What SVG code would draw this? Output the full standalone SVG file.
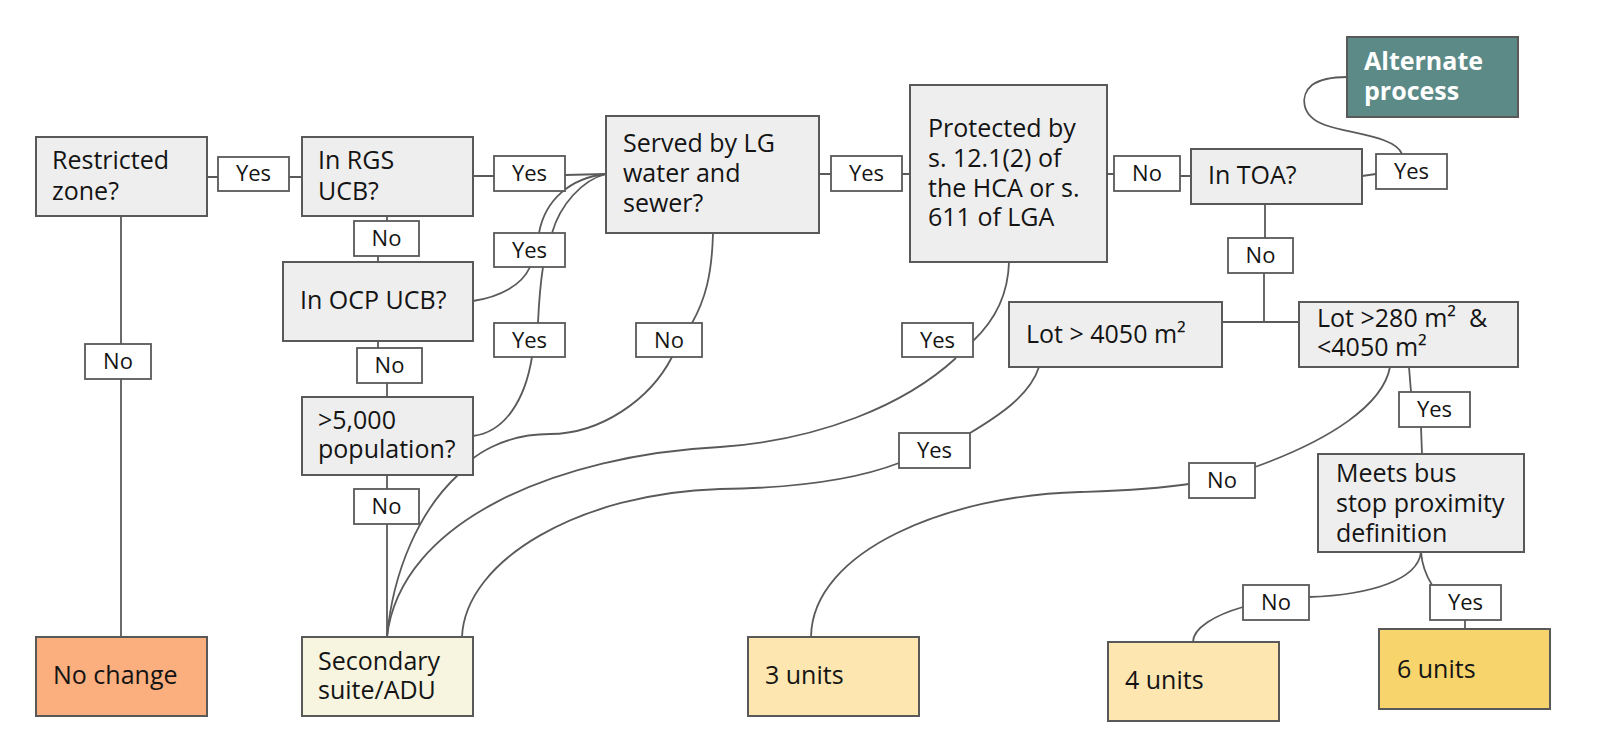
<svg xmlns="http://www.w3.org/2000/svg" width="1600" height="747" viewBox="0 0 1600 747">
<style>
.bg{fill:#ffffff}
.box{fill:#eeeeee;stroke:#595959;stroke-width:2}
.t{font-family:"Open Sans","Noto Sans","Liberation Sans",sans-serif;font-size:25px;fill:#141414}
.tw{font-family:"Open Sans","Noto Sans","Liberation Sans",sans-serif;font-size:25px;font-weight:bold;fill:#ffffff}
.lbl{fill:#ffffff;stroke:#595959;stroke-width:1.8}
.lt{font-family:"Open Sans","Noto Sans","Liberation Sans",sans-serif;font-size:22px;fill:#141414;text-anchor:middle}
.c{fill:none;stroke:#5a5a5a;stroke-width:1.8}
</style>
<rect class="bg" x="0" y="0" width="1600" height="747"/>
<g id="connectors">
<path class="c" d="M207,177 H302"/>
<path class="c" d="M121,216 V637"/>
<path class="c" d="M387,216 V221 M378,256 V262"/>
<path class="c" d="M473,176 H494 M565,175 L606,174"/>
<path class="c" d="M473,301 C500,297 522,285 530,267 M539,233 C545,200 570,178 606,174"/>
<path class="c" d="M473,436 C505,432 525,400 532,357 M538,323 C539,300 541,280 543,267 M552,233 C560,205 582,180 606,174"/>
<path class="c" d="M378,341 V348 M387,383 V397"/>
<path class="c" d="M387,475 V489 M387,524 V637"/>
<path class="c" d="M713,233 C712,275 705,300 692,323 M672,357 C650,400 600,434 550,434 C505,434 470,455 458,475 C420,510 393,570 387,637"/>
<path class="c" d="M819,174 H911"/>
<path class="c" d="M1009,262 C1008,300 990,325 973,341 M956,358 C905,405 820,440 720,447 C560,455 400,520 387,637"/>
<path class="c" d="M1107,174 H1114 M1180,176 H1191"/>
<path class="c" d="M1362,176 L1376,174 M1402,154 C1395,136 1350,134 1325,125 C1300,116 1300,95 1312,85 C1322,78 1335,77 1347,77"/>
<path class="c" d="M1265,204 V238 M1264,273 V322 M1222,322 H1300"/>
<path class="c" d="M1039,367 C1030,395 1000,415 970,433 M899,463 C860,478 800,488 720,489 C580,493 465,560 462,637"/>
<path class="c" d="M1390,367 C1383,405 1330,440 1255,467 M1189,484 C1150,490 1110,491 1080,492 C950,495 812,550 811,637"/>
<path class="c" d="M1409,367 L1411,392 M1421,427 L1422,454"/>
<path class="c" d="M1421,552 C1418,580 1370,595 1309,597 M1243,607 C1215,615 1193,628 1193,642"/>
<path class="c" d="M1421,552 C1422,565 1427,577 1432,585 M1465,620 V629"/>
</g>
<g id="restricted"><rect class="box" x="36" y="137" width="171" height="79"/><text class="t" x="52" y="169">Restricted</text><text class="t" x="52" y="200">zone?</text></g>
<g id="rgs"><rect class="box" x="302" y="137" width="171" height="79"/><text class="t" x="318" y="169">In RGS</text><text class="t" x="318" y="200">UCB?</text></g>
<g id="ocp"><rect class="box" x="283" y="262" width="190" height="79"/><text class="t" x="300" y="309">In OCP UCB?</text></g>
<g id="population"><rect class="box" x="302" y="397" width="171" height="78"/><text class="t" x="318" y="429">&gt;5,000</text><text class="t" x="318" y="458">population?</text></g>
<g id="served"><rect class="box" x="606" y="116" width="213" height="117"/><text class="t" x="623" y="152">Served by LG</text><text class="t" x="623" y="182">water and</text><text class="t" x="623" y="212">sewer?</text></g>
<g id="protected"><rect class="box" x="910" y="85" width="197" height="177"/><text class="t" x="928" y="137">Protected by</text><text class="t" x="928" y="167">s. 12.1(2) of</text><text class="t" x="928" y="197">the HCA or s.</text><text class="t" x="928" y="226">611 of LGA</text></g>
<g id="toa"><rect class="box" x="1191" y="149" width="171" height="55"/><text class="t" x="1208" y="184">In TOA?</text></g>
<g id="alternate"><rect x="1347" y="37" width="171" height="80" fill="#5b8a87" stroke="#595959" stroke-width="2"/><text class="tw" x="1364" y="70">Alternate</text><text class="tw" x="1364" y="100">process</text></g>
<g id="lot4050"><rect class="box" x="1009" y="302" width="213" height="65"/><text class="t" x="1026" y="343">Lot &gt; 4050 m²</text></g>
<g id="lot280"><rect class="box" x="1299" y="302" width="219" height="65"/><text class="t" x="1317" y="327" xml:space="preserve">Lot &gt;280 m²  &amp;</text><text class="t" x="1317" y="356">&lt;4050 m²</text></g>
<g id="busstop"><rect class="box" x="1318" y="454" width="206" height="98"/><text class="t" x="1336" y="482">Meets bus</text><text class="t" x="1336" y="512">stop proximity</text><text class="t" x="1336" y="542">definition</text></g>
<g id="nochange"><rect x="36" y="637" width="171" height="79" fill="#fbae7e" stroke="#595959" stroke-width="2"/><text class="t" x="53" y="684">No change</text></g>
<g id="secondary"><rect x="302" y="637" width="171" height="79" fill="#f7f4e0" stroke="#595959" stroke-width="2"/><text class="t" x="318" y="670">Secondary</text><text class="t" x="318" y="699">suite/ADU</text></g>
<g id="units3"><rect x="748" y="637" width="171" height="79" fill="#fde6b0" stroke="#595959" stroke-width="2"/><text class="t" x="765" y="684">3 units</text></g>
<g id="units4"><rect x="1108" y="642" width="171" height="79" fill="#fde6b0" stroke="#595959" stroke-width="2"/><text class="t" x="1125" y="689">4 units</text></g>
<g id="units6"><rect x="1379" y="629" width="171" height="80" fill="#f8d56c" stroke="#595959" stroke-width="2"/><text class="t" x="1397" y="678">6 units</text></g>
<g id="edge-labels">
<rect class="lbl" x="218" y="157" width="71" height="34"/><text class="lt" x="253.5" y="181">Yes</text>
<rect class="lbl" x="354" y="221" width="65" height="35"/><text class="lt" x="386.5" y="246">No</text>
<rect class="lbl" x="85" y="344" width="66" height="35"/><text class="lt" x="118" y="369">No</text>
<rect class="lbl" x="494" y="156" width="71" height="35"/><text class="lt" x="529.5" y="181">Yes</text>
<rect class="lbl" x="494" y="233" width="71" height="34"/><text class="lt" x="529.5" y="258">Yes</text>
<rect class="lbl" x="494" y="323" width="71" height="34"/><text class="lt" x="529.5" y="348">Yes</text>
<rect class="lbl" x="357" y="348" width="65" height="35"/><text class="lt" x="389.5" y="373">No</text>
<rect class="lbl" x="354" y="489" width="65" height="35"/><text class="lt" x="386.5" y="514">No</text>
<rect class="lbl" x="636" y="323" width="66" height="34"/><text class="lt" x="669" y="348">No</text>
<rect class="lbl" x="831" y="156" width="71" height="35"/><text class="lt" x="866.5" y="181">Yes</text>
<rect class="lbl" x="902" y="323" width="71" height="34"/><text class="lt" x="937.5" y="348">Yes</text>
<rect class="lbl" x="1114" y="156" width="66" height="35"/><text class="lt" x="1147" y="181">No</text>
<rect class="lbl" x="1376" y="154" width="71" height="35"/><text class="lt" x="1411.5" y="179">Yes</text>
<rect class="lbl" x="1228" y="238" width="65" height="35"/><text class="lt" x="1260.5" y="263">No</text>
<rect class="lbl" x="899" y="433" width="71" height="35"/><text class="lt" x="934.5" y="458">Yes</text>
<rect class="lbl" x="1189" y="463" width="66" height="35"/><text class="lt" x="1222" y="488">No</text>
<rect class="lbl" x="1399" y="392" width="71" height="35"/><text class="lt" x="1434.5" y="417">Yes</text>
<rect class="lbl" x="1243" y="585" width="66" height="35"/><text class="lt" x="1276" y="610">No</text>
<rect class="lbl" x="1430" y="585" width="71" height="35"/><text class="lt" x="1465.5" y="610">Yes</text>
</g>
</svg>
